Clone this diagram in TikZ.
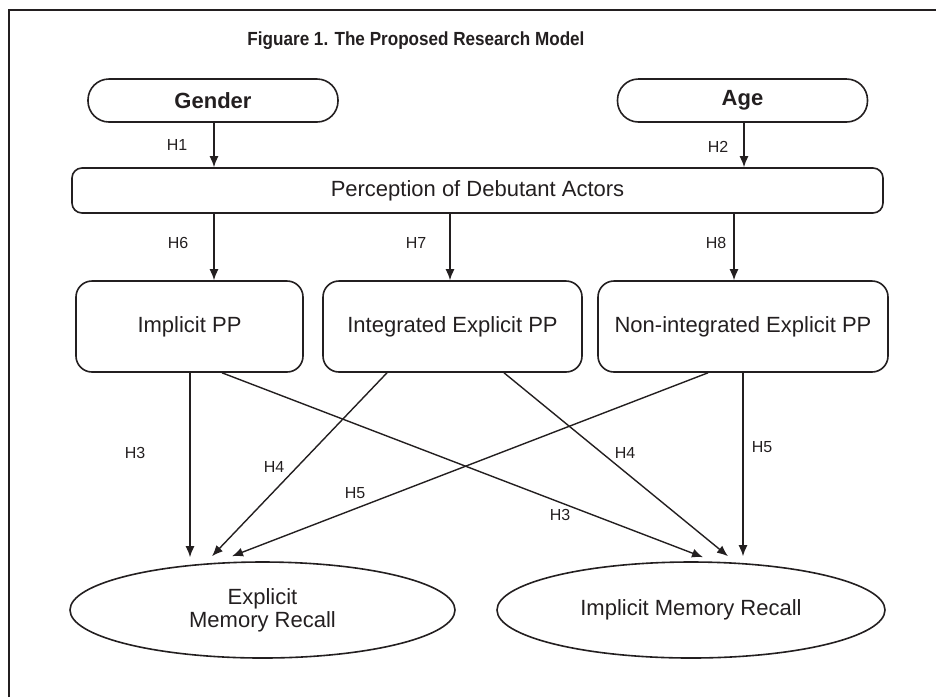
\documentclass[tikz,border=0pt]{standalone}
\usepackage{fontspec}
\setmainfont{Liberation Sans}
\usetikzlibrary{arrows.meta,shapes.geometric}
\definecolor{ink}{RGB}{35,31,32}
\begin{document}
\begin{tikzpicture}[x=0.5pt,y=-0.5pt,
  every node/.style={text=ink},
  stadium/.style={draw=ink,line width=0.8pt,rounded corners=10.5pt,minimum width=125pt,minimum height=21.5pt,inner sep=0pt,font=\fontsize{11}{13}\selectfont\bfseries},
  bar/.style={draw=ink,line width=0.8pt,rounded corners=5pt,minimum width=405.5pt,minimum height=22.5pt,inner sep=0pt,font=\fontsize{11}{13}\selectfont},
  ppbox/.style={draw=ink,line width=0.8pt,rounded corners=8pt,minimum height=45.5pt,inner sep=0pt,font=\fontsize{11}{13}\selectfont},
  recall/.style={draw=ink,line width=0.8pt,ellipse,minimum height=48pt,inner sep=0pt,align=center,font=\fontsize{11}{11.5}\selectfont},
  hlab/.style={font=\fontsize{8}{9}\selectfont,inner sep=0pt},
  arr/.style={draw=ink,line width=0.7pt,-{Latex[length=5.5pt,width=4.5pt]}}]
\useasboundingbox (0,0) rectangle (936,697);
\draw[draw=ink,line width=1pt] (9,697) -- (9,10) -- (936,10);
\node[font=\fontsize{9.5}{11}\selectfont\bfseries,xscale=0.9] (title) at (416,41) {Figuare 1. The Proposed Research Model};
\node[stadium] (gender) at (213,100.5) {Gender};
\node[stadium] (age) at (742.5,100.5) {Age};
\node[bar] (perc) at (477.5,190.5) {Perception of Debutant Actors};
\node[ppbox,minimum width=113.5pt] (imp) at (189.5,326.5) {Implicit PP};
\node[ppbox,minimum width=129.5pt] (iep) at (452.5,326.5) {Integrated Explicit PP};
\node[ppbox,minimum width=145pt] (nep) at (743,326.5) {Non-integrated Explicit PP};
\node[recall,minimum width=192.5pt] (erm) at (262.5,610) {Explicit\\Memory Recall};
\node[recall,minimum width=194pt] (irm) at (691,610) {Implicit Memory Recall};
\coordinate (ermtop) at ([yshift=2pt]erm.north);
\coordinate (irmtop) at ([yshift=2.5pt]irm.north);
% top arrows
\draw[arr] ([xshift=0.5pt]gender.south) -- ([xshift=0.5pt]gender.south |- perc.north);
\draw[arr] ([xshift=0.75pt]age.south) -- ([xshift=0.75pt]age.south |- perc.north);
\draw[arr] ([xshift=12.25pt]imp.north |- perc.south) -- ([xshift=12.25pt]imp.north);
\draw[arr] ([xshift=-1.25pt]iep.north |- perc.south) -- ([xshift=-1.25pt]iep.north);
\draw[arr] ([xshift=-4.5pt]nep.north |- perc.south) -- ([xshift=-4.5pt]nep.north);
% bottom arrows
\draw[arr] ([xshift=0.25pt]imp.south) -- ([xshift=0.25pt]imp.south |- ermtop);
\draw[arr] ([xshift=16.25pt]imp.south) -- ([xshift=6pt,yshift=2pt]irm.north);
\draw[arr] ([xshift=-32.75pt]iep.south) -- ([xshift=-25.25pt,yshift=2.5pt]erm.north);
\draw[arr] ([xshift=25.75pt]iep.south) -- ([xshift=18.5pt,yshift=2.5pt]irm.north);
\draw[arr] ([xshift=-17.5pt]nep.south) -- ([xshift=-15.25pt,yshift=2.5pt]erm.north);
\draw[arr] (nep.south) -- (nep.south |- irmtop);
% labels
\node[hlab] (h1) at (177,145) {H1};
\node[hlab] (h2) at (718,147) {H2};
\node[hlab] (h6) at (178,243) {H6};
\node[hlab] (h7) at (416,243) {H7};
\node[hlab] (h8) at (716,243) {H8};
\node[hlab] (h3a) at (135,453) {H3};
\node[hlab] (h4a) at (274,467) {H4};
\node[hlab] (h5a) at (355,493) {H5};
\node[hlab] (h3b) at (560,515) {H3};
\node[hlab] (h4b) at (625,453) {H4};
\node[hlab] (h5b) at (762,447) {H5};
\end{tikzpicture}
\end{document}
